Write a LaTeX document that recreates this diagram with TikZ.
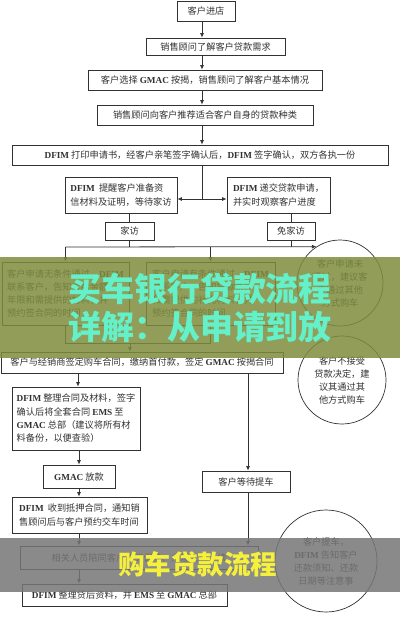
\documentclass[tikz,border=0pt]{standalone}
\usepackage{fontspec}
\setmainfont{Noto Sans CJK SC}
\newfontfamily\latfont{Liberation Serif}
\usetikzlibrary{arrows.meta}
\definecolor{ink}{RGB}{50,50,50}
\definecolor{olivebar}{RGB}{126,140,61}
\definecolor{graybar}{RGB}{118,118,118}
\definecolor{aqua}{RGB}{100,240,200}
\definecolor{yel}{RGB}{245,240,60}
\newcommand\en[1]{{\latfont\bfseries #1}}
\begin{document}
\begin{tikzpicture}[x=1pt,y=-1pt,
  box/.style={draw=ink, line width=0.7pt, text=ink, inner sep=0pt, align=center, font=\fontsize{9.2}{13.3}\selectfont},
  lbox/.style={box, align=left},
  circ/.style={draw=ink, line width=0.7pt, circle, text=ink, inner sep=0pt, align=center, font=\fontsize{9.2}{13}\selectfont},
  link/.style={draw=ink, line width=0.8pt},
  arr/.style={link, -{Latex[length=4.5pt,width=4pt]}},
  bigtxt/.style={font=\fontsize{33}{39}\selectfont\bfseries, text=aqua, inner sep=0pt},
  midtxt/.style={font=\fontsize{26.5}{30}\selectfont\bfseries, text=yel, inner sep=0pt}]
\useasboundingbox (0,0) rectangle (400,619);
\fill[white] (0,0) rectangle (400,619);

% main column
\node[box, minimum width=58pt, minimum height=20pt] (n1) at (206,11) {客户进店};
\node[box, minimum width=139pt, minimum height=17pt] (n2) at (215.5,46.5) {销售顾问了解客户贷款需求};
\node[box, minimum width=234pt, minimum height=20pt] (n3) at (205,80) {客户选择 \en{GMAC} 按揭，销售顾问了解客户基本情况};
\node[box, minimum width=216pt, minimum height=20pt] (n4) at (205,115) {销售顾问向客户推荐适合客户自身的贷款种类};
\node[box, minimum width=376pt, minimum height=20pt] (n5) at (200,155) {\en{DFIM} 打印申请书，经客户亲笔签字确认后，\en{DFIM} 签字确认，双方各执一份};

\node[lbox, minimum width=112pt, minimum height=36pt] (L1) at (121,195) {\en{DFIM}\ \ 提醒客户准备资\\信材料及证明，等待家访};
\node[lbox, minimum width=103pt, minimum height=36pt] (R1) at (278.5,195) {\en{DFIM} 递交贷款申请，\\并实时观察客户进度};
\node[box, minimum width=49pt, minimum height=18pt] (hv) at (129.5,231) {家访};
\node[box, minimum width=48pt, minimum height=18pt] (mv) at (291,231) {免家访};

\node[lbox, minimum width=127pt, minimum height=63pt] (A) at (65.5,293.5) {客户申请无条件通过，\en{DFIM}\\联系客户，告知贷款金额、\\年限和需提供的材料，并\\预约签合同的时间};
\node[lbox, minimum width=129pt, minimum height=63pt] (B) at (210.5,293.5) {客户申请有条件通过，\en{DFIM}\\联系客户，告知贷款条件\\和需提供的补充材料，并\\预约签合同的时间};
\node[circ, minimum size=86pt] (C1) at (340,283) {客户申请未\\通过，建议客\\户通过其他\\方式购车};

\node[box, minimum width=282pt, minimum height=21pt] (K) at (142,362.5) {客户与经销商签定购车合同，缴纳首付款，签定 \en{GMAC} 按揭合同};
\node[circ, minimum size=88pt] (C2) at (342,380) {客户不接受\\贷款决定，建\\议其通过其\\他方式购车};

\node[lbox, minimum width=128pt, minimum height=63pt] (D) at (76,418.5) {\en{DFIM} 整理合同及材料，签字\\确认后将全套合同 \en{EMS} 至\\\en{GMAC} 总部（建议将所有材\\料备份，以便查验）};
\node[box, minimum width=72pt, minimum height=23pt] (G1) at (79,476.5) {\en{GMAC} 放款};
\node[lbox, minimum width=135pt, minimum height=36pt] (E) at (79.5,515) {\en{DFIM}\ \ 收到抵押合同，通知销\\售顾问后与客户预约交车时间};
\node[box, minimum width=88pt, minimum height=21pt] (W) at (246,481.5) {客户等待提车};
\node[box, minimum width=238pt, minimum height=23pt] (F) at (139,557.5) {相关人员陪同客户购买保险、办理上牌手续};
\node[box, minimum width=205pt, minimum height=22pt] (G) at (124.5,595) {\en{DFIM} 整理贷后资料，并 \en{EMS} 至 \en{GMAC} 总部};
\node[circ, minimum size=102pt] (C3) at (326,561) {客户提车，\\\en{DFIM} 告知客户\\还款须知、还款\\日期等注意事};

% connectors
\coordinate (ax) at (202,0);
\draw[arr] (n1.south -| ax) -- (n2.north -| ax);
\draw[arr] (n2.south -| ax) -- (n3.north -| ax);
\draw[arr] (n3.south -| ax) -- (n4.north -| ax);
\draw[arr] (n4.south -| ax) -- (n5.north -| ax);
\coordinate (j1) at (202,199);
\draw[link] (n5.south -| j1) -- (j1);
\draw[arr] (j1) -- (L1.east |- j1);
\draw[arr] (j1) -- (R1.west |- j1);
\draw[link] (L1.south -| hv.north) -- (hv.north);
\draw[link] (R1.south -| mv.north) -- (mv.north);
\coordinate (h2) at (0,247);
\draw[link] (hv.south) -- (hv.south |- h2);
\draw[link] (mv.south) -- (mv.south |- h2);
\draw[arr] (A.north |- h2) -- (C1.123);
\draw[arr] (A.north |- h2) -- (A.north);
\draw[arr] (B.north |- h2) -- (B.north);
\coordinate (h3) at (0,343);
\draw[link] (A.south) -- (A.south |- h3) -- (B.south |- h3) -- (B.south);
\coordinate (k1) at (130,343);
\draw[arr] (k1) -- (K.north -| k1);
\coordinate (dx) at (78,0);
\draw[arr] (K.south -| dx) -- (D.north -| dx);
\coordinate (cx) at (79,0);
\draw[arr] (D.south -| cx) -- (G1.north -| cx);
\draw[arr] (G1.south -| cx) -- (E.north -| cx);
\draw[arr] (E.south -| cx) -- (F.north -| cx);
\draw[arr] (F.south -| cx) -- (G.north -| cx);
\coordinate (wx) at (248,0);
\draw[arr] (K.south -| wx) -- (W.north -| wx);
\draw[arr] (W.south -| wx) -- (F.north -| wx);

% overlay banners
\fill[olivebar, opacity=0.85] (0,257) rectangle (400,358);
\node[bigtxt] (t1) at (200,288.5) {买车银行贷款流程};
\node[bigtxt] (t2) at (200,326.5) {详解：从申请到放};
\fill[graybar, opacity=0.85] (0,538) rectangle (400,592);
\node[midtxt] (t3) at (197.5,564.5) {购车贷款流程};
\end{tikzpicture}
\end{document}
